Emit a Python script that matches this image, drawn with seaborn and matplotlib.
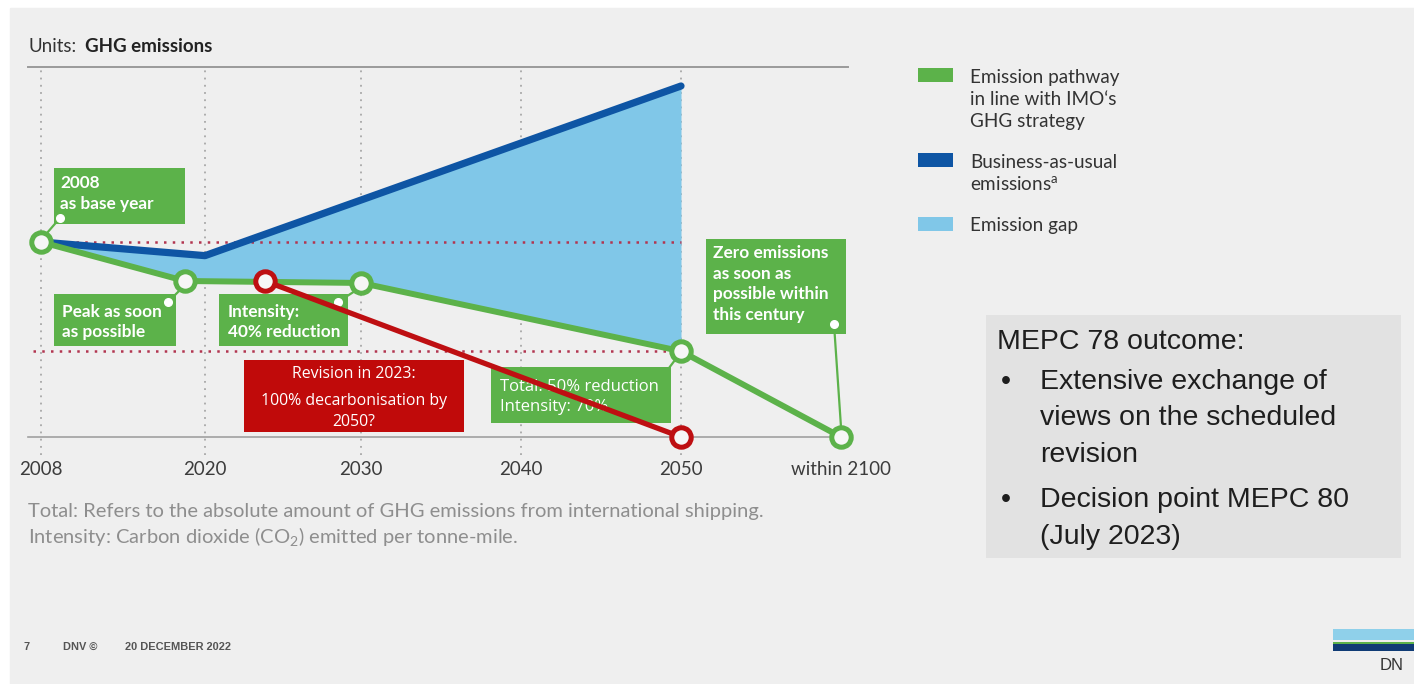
import numpy as np
import pandas as pd
import matplotlib
matplotlib.use("Agg")
import matplotlib.pyplot as plt
from matplotlib.patches import Rectangle
import seaborn as sns

# ---------------- data ----------------
tick_pos = [2010, 2020.25, 2030, 2040, 2050, 2060]
tick_labels = ["2008", "2020", "2030", "2040", "2050", "within 2100"]

bau_x = [2010, 2020.25, 2050]
bau_y = [100, 93, 180]

imo_x = [2010, 2019, 2030, 2050, 2060]
imo_y = [100, 80, 79, 44, 0]

rev_x = [2024, 2050]
rev_y = [80, 0]

ref_levels = [100, 44]

legend_labels = [["Emission pathway", "in line with IMO\u2018s", "GHG strategy"],
                 ["Business-as-usual", r"emissions$^{\mathrm{a}}$"],
                 ["Emission gap"]]

# ---------------- style ----------------
sns.set_theme(style="white")
plt.rcParams["font.family"] = ["Lato", "DejaVu Sans"]
plt.rcParams["mathtext.fontset"] = "custom"
plt.rcParams["mathtext.rm"] = "Lato"
plt.rcParams["mathtext.it"] = "Lato"

BG = "#EFEFEF"
GREEN = "#5CB24A"
BLUE = "#0E55A4"
LBLUE = "#80C7E8"
RED = "#BE0F12"
DOTRED = "#B23550"

W, H = 1414, 684
fig = plt.figure(figsize=(W / 100, H / 100), dpi=100, facecolor="white")
fig.add_artist(Rectangle((10 / W, 0), 1, 1 - 8 / H, transform=fig.transFigure,
                         color=BG, zorder=-10))

def fx(px):
    return px / W

def fy(py):
    return 1 - py / H

ax_l, ax_r, ax_t, ax_b = 28, 848, 67, 437
ax = fig.add_axes([fx(ax_l), fy(ax_b), (ax_r - ax_l) / W, (ax_b - ax_t) / H])
ax.set_facecolor("none")

x0 = 2010 - 13 / 16
x1 = 2050 + 167 / 16
ax.set_xlim(x0, x1)
ax.set_ylim(0, (ax_b - ax_t) / 1.95)

# emission gap
grid = np.array(sorted(set(bau_x + imo_x[:4])), dtype=float)
bau_g = np.interp(grid, bau_x, bau_y)
imo_g = np.interp(grid, imo_x, imo_y)
ax.fill_between(grid, imo_g, bau_g, color=LBLUE, lw=0, zorder=1)

# grid lines
ax.vlines(tick_pos[:5], -9, 188, colors="#A8A8A8", linestyles=(0, (1, 3)),
          lw=1.3, zorder=0.5, clip_on=False)
# reference dotted lines
ax.hlines(ref_levels, [2010, 2009.5], 2050, colors=DOTRED,
          linestyles=(0, (1, 2.5)), lw=1.8, zorder=2)

# lines
bau = pd.DataFrame({"x": bau_x, "y": bau_y})
imo = pd.DataFrame({"x": imo_x, "y": imo_y})
rev = pd.DataFrame({"x": rev_x, "y": rev_y})

sns.lineplot(data=bau, x="x", y="y", ax=ax, color=BLUE, lw=5.2, sort=False,
             solid_capstyle="round", zorder=3)
sns.lineplot(data=imo, x="x", y="y", ax=ax, color=GREEN, lw=4.3, sort=False,
             marker="o", markersize=14, markerfacecolor="#F6F6F6",
             markeredgecolor=GREEN, markeredgewidth=3.6, zorder=4, clip_on=False)
sns.lineplot(data=rev, x="x", y="y", ax=ax, color=RED, lw=3.8, sort=False,
             marker="o", markersize=14, markerfacecolor="#F6F6F6",
             markeredgecolor=RED, markeredgewidth=3.6, zorder=7, clip_on=False)

# axes cosmetics
for s in ["left", "right"]:
    ax.spines[s].set_visible(False)
ax.spines["top"].set_color("#9A9A9A")
ax.spines["top"].set_linewidth(1.4)
ax.spines["bottom"].set_color("#A0A0A0")
ax.spines["bottom"].set_linewidth(1.2)
ax.spines["bottom"].set_bounds(x0, 2060)
ax.set_yticks([])
ax.set_xticks(tick_pos, labels=tick_labels)
ax.tick_params(axis="x", length=0, pad=17, labelsize=13.5, labelcolor="#3C3C3C")
ax.set_xlabel("")
ax.set_ylabel("")

# ---------------- annotation boxes ----------------
def box(x0p, y0p, x1p, y1p, color, z=5):
    ax.add_patch(Rectangle((fx(x0p), fy(y1p)), (x1p - x0p) / W, (y1p - y0p) / H,
                           transform=fig.transFigure, color=color, lw=0,
                           zorder=z, clip_on=False))

def txt(xp, yp, s, z=6, **kw):
    ax.text(fx(xp), fy(yp), s, transform=fig.transFigure, zorder=z,
            clip_on=False, **kw)

def connector(dot, end, show_dot=True):
    ax.plot([fx(dot[0]), fx(end[0])], [fy(dot[1]), fy(end[1])],
            transform=fig.transFigure, color=GREEN, lw=1.6, zorder=4.5,
            clip_on=False)
    if show_dot:
        ax.plot([fx(dot[0])], [fy(dot[1])], transform=fig.transFigure, marker="o",
                ms=5.5, color="white", mec="white", zorder=6, clip_on=False)

gkw = dict(color="white", fontsize=12.4, fontweight="bold", va="center", ha="left")
ckw = dict(color="white", family=["Open Sans", "DejaVu Sans"], va="center")

box(54, 168, 185, 224, GREEN)
txt(60, 183, "2008", **gkw)
txt(60, 204, "as base year", **gkw)
connector((60, 218), (47, 233))

box(54, 294, 176, 346, GREEN)
txt(62, 312, "Peak as soon", **gkw)
txt(62, 332, "as possible", **gkw)
connector((168, 302), (180, 290))

box(219, 294, 348, 346, GREEN)
txt(228, 312, "Intensity:", **gkw)
txt(228, 332, "40% reduction", **gkw)
connector((338, 302), (355, 291))

box(244, 360, 464, 432, "#C00A0A")
txt(354, 374, "Revision in 2023:", ha="center", fontsize=11.4, **ckw)
txt(354, 401, "100% decarbonisation by", ha="center", fontsize=11.4, **ckw)
txt(354, 422, "2050?", ha="center", fontsize=11.4, **ckw)

box(491, 367, 671, 423, GREEN)
txt(500, 387, "Total: 50% reduction", ha="left", fontsize=12, **ckw)
txt(500, 407, "Intensity: 70%", ha="left", fontsize=12, **ckw)
connector((669, 368), (675, 360), show_dot=False)

box(706, 239, 846, 334, GREEN)
for i, line in enumerate(["Zero emissions", "as soon as", "possible within",
                          "this century"]):
    txt(713, 253 + i * 20.7, line, **gkw)
connector((834, 324), (841, 427))

# ---------------- text outside plot ----------------
fig.text(fx(28), fy(46), "Units:", fontsize=13.5, color="#333333", va="center")
fig.text(fx(85), fy(46), "GHG emissions", fontsize=13.5, color="#222222",
         fontweight="bold", va="center")

# legend
leg_colors = [GREEN, BLUE, LBLUE]
leg_patch_y = [(68, 82), (153, 167), (217, 231)]
leg_text_y = [[78, 99.5, 121], [162, 183.5], [225]]
for c, (ya, yb), lines, ys in zip(leg_colors, leg_patch_y, legend_labels, leg_text_y):
    fig.add_artist(Rectangle((fx(918), fy(yb)), 35 / W, (yb - ya) / H,
                             transform=fig.transFigure, color=c, lw=0))
    for line, yy in zip(lines, ys):
        fig.text(fx(970), fy(yy), line, fontsize=13.6, color="#333333",
                 va="center")

# footnotes
fig.text(fx(28), fy(512), "Total: Refers to the absolute amount of GHG emissions "
         "from international shipping.", fontsize=14.5, color="#8E8E8E", va="center")
fig.text(fx(28), fy(537), r"Intensity: Carbon dioxide (CO$_2$) emitted per tonne-mile.",
         fontsize=14.5, color="#8E8E8E", va="center")

# MEPC box
fig.add_artist(Rectangle((fx(986), fy(558)), (1401 - 986) / W, (558 - 315) / H,
                         transform=fig.transFigure, color="#E2E2E2", lw=0))
mkw = dict(fontsize=20.5, color="#1E1E1E", va="center",
           family=["Liberation Sans", "DejaVu Sans"])
fig.text(fx(997), fy(342), "MEPC 78 outcome:", **mkw)
fig.text(fx(1001), fy(382), "\u2022", **mkw)
fig.text(fx(1040), fy(382), "Extensive exchange of", **mkw)
fig.text(fx(1040), fy(418), "views on the scheduled", **mkw)
fig.text(fx(1040), fy(455), "revision", **mkw)
fig.text(fx(1001), fy(500), "\u2022", **mkw)
fig.text(fx(1040), fy(500), "Decision point MEPC 80", **mkw)
fig.text(fx(1040), fy(537), "(July 2023)", **mkw)

# footer
fkw = dict(fontsize=7.9, color="#555555", va="center", fontweight="bold",
           family=["Liberation Sans", "DejaVu Sans"])
fig.text(fx(24), fy(647), "7", **fkw)
fig.text(fx(63), fy(647), "DNV \u00a9", **fkw)
fig.text(fx(125), fy(647), "20 DECEMBER 2022", **fkw)

# logo
fig.add_artist(Rectangle((fx(1333), fy(640)), 81 / W, 11 / H,
                         transform=fig.transFigure, color="#8FD0EA", lw=0))
fig.add_artist(Rectangle((fx(1333), fy(644)), 81 / W, 2 / H,
                         transform=fig.transFigure, color=GREEN, lw=0))
fig.add_artist(Rectangle((fx(1333), fy(651)), 81 / W, 7 / H,
                         transform=fig.transFigure, color="#0F3B75", lw=0))
fig.text(fx(1380), fy(665), "DN", fontsize=12, color="#333333", va="center",
         family=["Liberation Sans", "DejaVu Sans"])

fig.savefig("out.png", dpi=100, facecolor=fig.get_facecolor())
